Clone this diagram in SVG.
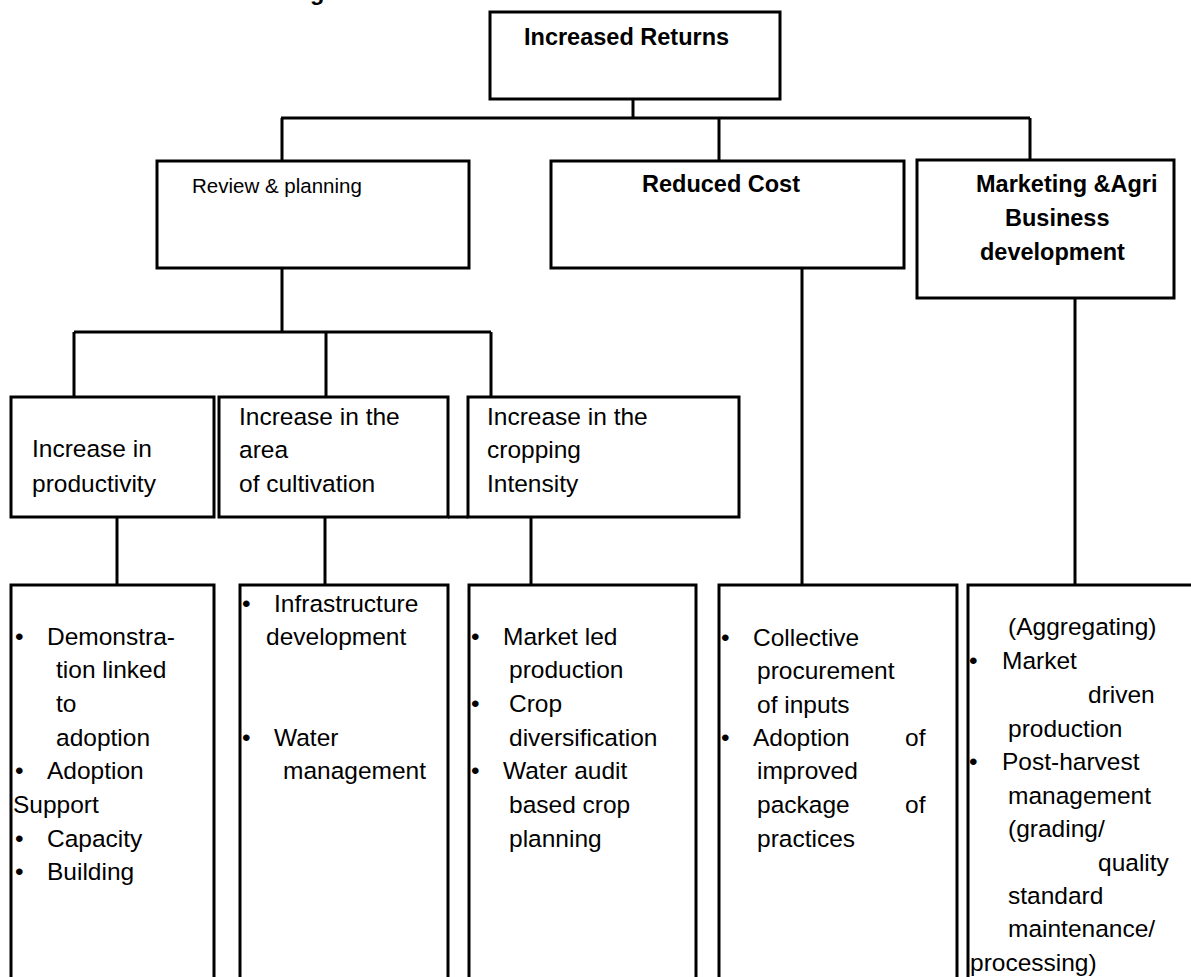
<svg xmlns="http://www.w3.org/2000/svg" width="1191" height="977" viewBox="0 0 1191 977">
  <style>
    .box { fill: #fff; stroke: #000; stroke-width: 3; }
    .open { fill: none; stroke: #000; stroke-width: 3; }
    .link { fill: none; stroke: #000; stroke-width: 3; }
    text { font-family: "Liberation Sans", Arial, sans-serif; fill: #000; }
    .t { font-size: 24.5px; }
    .b { font-size: 23.5px; font-weight: bold; }
    .s { font-size: 20.5px; }
  </style>
  <rect width="1191" height="977" fill="#fff"/>

  <!-- title line, cut by the top edge -->
  <text class="b" x="310" y="-0.5">g</text>

  <!-- connectors -->
  <g id="connectors">
    <path class="link" d="M633,99 V118"/>
    <path class="link" d="M281,118 H1030"/>
    <path class="link" d="M282,118 V161"/>
    <path class="link" d="M719,118 V161"/>
    <path class="link" d="M1030,118 V160"/>
    <path class="link" d="M282,268 V332"/>
    <path class="link" d="M74,332 H491"/>
    <path class="link" d="M74,332 V397"/>
    <path class="link" d="M326,332 V397"/>
    <path class="link" d="M491,332 V397"/>
    <path class="link" d="M117,517 V585"/>
    <path class="link" d="M325,517 V585"/>
    <path class="link" d="M531,517 V585"/>
    <path class="link" d="M802,268 V585"/>
    <path class="link" d="M1075,298 V585"/>
  </g>

  <!-- top level -->
  <g id="increased-returns">
    <rect class="box" x="490" y="12" width="290" height="87"/>
    <text class="b" x="524" y="45">Increased Returns</text>
  </g>

  <!-- second level -->
  <g id="review-planning">
    <rect class="box" x="157" y="161" width="312" height="107"/>
    <text class="s" x="192" y="193">Review &amp; planning</text>
  </g>
  <g id="reduced-cost">
    <rect class="box" x="551" y="161" width="353" height="107"/>
    <text class="b" x="642" y="192">Reduced Cost</text>
  </g>
  <g id="marketing">
    <rect class="box" x="917" y="160" width="257" height="138"/>
    <text class="b" x="976" y="192">Marketing &amp;Agri</text>
    <text class="b" x="1005" y="226">Business</text>
    <text class="b" x="980" y="260">development</text>
  </g>

  <!-- third level -->
  <g id="productivity">
    <rect class="box" x="11" y="397" width="203" height="120"/>
    <text class="t" x="32" y="457">Increase in</text>
    <text class="t" x="32" y="492">productivity</text>
  </g>
  <g id="area">
    <rect class="box" x="219" y="397" width="229" height="120"/>
    <path class="open" d="M448,517 H468"/>
    <text class="t" x="239" y="425">Increase in the</text>
    <text class="t" x="239" y="458">area</text>
    <text class="t" x="239" y="492">of cultivation</text>
  </g>
  <g id="cropping-intensity">
    <rect class="box" x="468" y="397" width="271" height="120"/>
    <text class="t" x="487" y="425">Increase in the</text>
    <text class="t" x="487" y="458">cropping</text>
    <text class="t" x="487" y="492">Intensity</text>
  </g>

  <!-- activity columns -->
  <g id="productivity-actions">
    <path class="open" d="M11,980 V585 H214 V980"/>
    <text class="t" x="15" y="645">•</text>
    <text class="t" x="47" y="645">Demonstra-</text>
    <text class="t" x="56" y="678">tion linked</text>
    <text class="t" x="56" y="712">to</text>
    <text class="t" x="56" y="746">adoption</text>
    <text class="t" x="15" y="779">•</text>
    <text class="t" x="47" y="779">Adoption</text>
    <text class="t" x="13" y="813">Support</text>
    <text class="t" x="15" y="847">•</text>
    <text class="t" x="47" y="847">Capacity</text>
    <text class="t" x="15" y="880">•</text>
    <text class="t" x="47" y="880">Building</text>
  </g>
  <g id="area-actions">
    <path class="open" d="M240,980 V585 H448 V980"/>
    <text class="t" x="242" y="612">•</text>
    <text class="t" x="274" y="612">Infrastructure</text>
    <text class="t" x="266" y="645">development</text>
    <text class="t" x="242" y="746">•</text>
    <text class="t" x="274" y="746">Water</text>
    <text class="t" x="283" y="779">management</text>
  </g>
  <g id="cropping-actions">
    <path class="open" d="M469,980 V585 H696 V980"/>
    <text class="t" x="471" y="645">•</text>
    <text class="t" x="503" y="645">Market led</text>
    <text class="t" x="509" y="678">production</text>
    <text class="t" x="471" y="712">•</text>
    <text class="t" x="509" y="712">Crop</text>
    <text class="t" x="509" y="746">diversification</text>
    <text class="t" x="471" y="779">•</text>
    <text class="t" x="503" y="779">Water audit</text>
    <text class="t" x="509" y="813">based crop</text>
    <text class="t" x="509" y="847">planning</text>
  </g>
  <g id="cost-actions">
    <path class="open" d="M719,980 V585 H957 V980"/>
    <text class="t" x="721" y="646">•</text>
    <text class="t" x="753" y="646">Collective</text>
    <text class="t" x="757" y="679">procurement</text>
    <text class="t" x="757" y="713">of inputs</text>
    <text class="t" x="721" y="746">•</text>
    <text class="t" x="753" y="746">Adoption</text>
    <text class="t" x="905" y="746">of</text>
    <text class="t" x="757" y="779">improved</text>
    <text class="t" x="757" y="813">package</text>
    <text class="t" x="905" y="813">of</text>
    <text class="t" x="757" y="847">practices</text>
  </g>
  <g id="marketing-actions">
    <path class="open" d="M968,980 V585 H1195"/>
    <text class="t" x="1008" y="635">(Aggregating)</text>
    <text class="t" x="969" y="669">•</text>
    <text class="t" x="1002" y="669">Market</text>
    <text class="t" x="1088" y="703">driven</text>
    <text class="t" x="1008" y="737">production</text>
    <text class="t" x="969" y="770">•</text>
    <text class="t" x="1002" y="770">Post-harvest</text>
    <text class="t" x="1008" y="804">management</text>
    <text class="t" x="1008" y="837">(grading/</text>
    <text class="t" x="1098" y="871">quality</text>
    <text class="t" x="1008" y="904">standard</text>
    <text class="t" x="1008" y="937">maintenance/</text>
    <text class="t" x="970" y="971">processing)</text>
  </g>
</svg>
